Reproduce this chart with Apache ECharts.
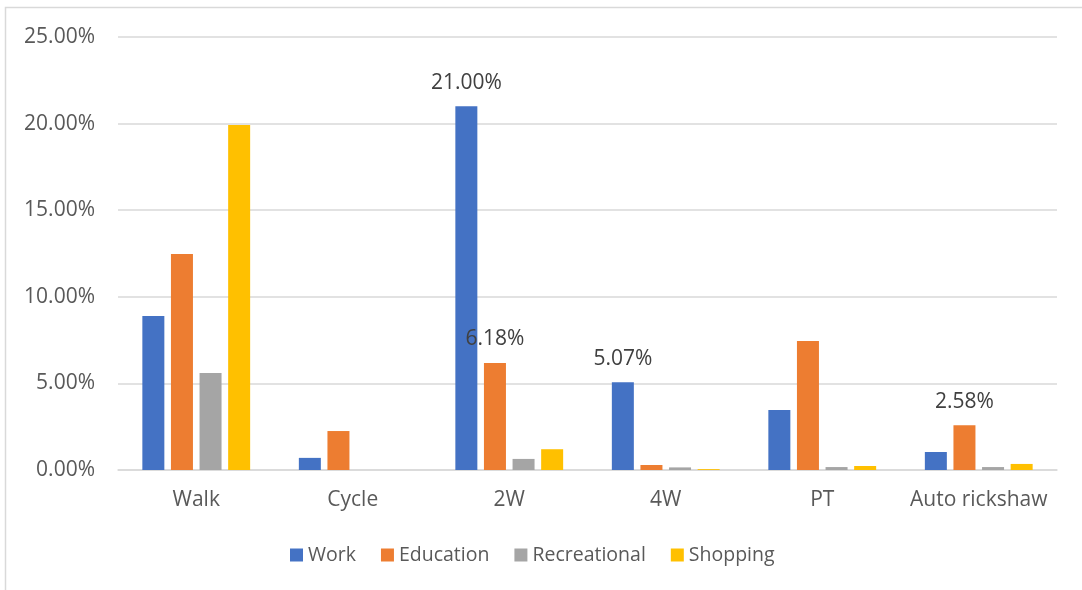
<!DOCTYPE html>
<html>
<head>
<meta charset="utf-8">
<title>Trip purpose by mode</title>
<script src="https://cdn.jsdelivr.net/npm/echarts@6/dist/echarts.min.js"></script>
<style>
  html, body { margin: 0; padding: 0; background: #fff; }
  #chart { width: 1082px; height: 590px; }
</style>
</head>
<body>
<div id="chart"></div>
<script>
// Modes of travel along the x axis
const modes = ['Walk', 'Cycle', '2W', '4W', 'PT', 'Auto rickshaw'];

// Share of trips (%) for each purpose, by mode
const work         = [8.89, 0.70, 21.00, 5.07, 3.46, 1.04];
const education    = [12.47, 2.25, 6.18, 0.29, 7.45, 2.58];
const recreational = [5.60, 0.00, 0.64, 0.15, 0.17, 0.17];
const shopping     = [19.92, 0.00, 1.20, 0.05, 0.23, 0.35];

// Indices of the bars that carry a value label
const workLabeled = [2, 3];
const educationLabeled = [2, 5];

const yTicks = { min: 0, max: 25, interval: 5 };

const fontFamily = '"Open Sans", sans-serif';
const fontSize = 21;

const labelStyle = {
  show: true,
  position: 'top',
  distance: 13,
  fontFamily: fontFamily,
  fontSize: fontSize,
  color: '#404040',
  formatter: p => p.value.toFixed(2) + '%'
};

function withLabels(values, labeled) {
  return values.map((v, i) => labeled.includes(i) ? { value: v, label: labelStyle } : v);
}

const chart = echarts.init(document.getElementById('chart'), null, { renderer: 'canvas' });

const barBase = {
  type: 'bar',
  barWidth: 22,
  barGap: '30%',
  label: { show: false },
  emphasis: { disabled: true }
};

chart.setOption({
  animation: false,
  textStyle: { fontFamily: fontFamily },
  grid: { left: 118, right: 25, top: 37, bottom: 120 },
  legend: {
    bottom: 25,
    left: 290,
    padding: 0,
    itemWidth: 13,
    itemHeight: 13,
    itemGap: 25,
    icon: 'rect',
    textStyle: { fontSize: 19.5, color: '#595959' },
    data: ['Work', 'Education', 'Recreational', 'Shopping']
  },
  xAxis: {
    type: 'category',
    data: modes,
    axisLine: { lineStyle: { color: '#d9d9d9', width: 1.5 } },
    axisTick: { show: false },
    axisLabel: { interval: 0, fontSize: fontSize, color: '#595959', margin: 20 }
  },
  yAxis: {
    type: 'value',
    min: yTicks.min,
    max: yTicks.max,
    interval: yTicks.interval,
    axisLine: { show: false },
    axisTick: { show: false },
    splitLine: { lineStyle: { color: '#d9d9d9', width: 1.5 } },
    axisLabel: {
      fontSize: fontSize,
      color: '#595959',
      margin: 23,
      formatter: v => v.toFixed(2) + '%'
    }
  },
  graphic: [{
    type: 'polyline',
    shape: { points: [[5.5, 590], [5.5, 7.5], [1082, 7.5]] },
    style: { stroke: '#d9d9d9', lineWidth: 1.5, fill: null },
    silent: true
  }],
  series: [
    Object.assign({}, barBase, { name: 'Work', itemStyle: { color: '#4472c4' }, data: withLabels(work, workLabeled) }),
    Object.assign({}, barBase, { name: 'Education', itemStyle: { color: '#ed7d31' }, data: withLabels(education, educationLabeled) }),
    Object.assign({}, barBase, { name: 'Recreational', itemStyle: { color: '#a5a5a5' }, data: recreational }),
    Object.assign({}, barBase, { name: 'Shopping', itemStyle: { color: '#ffc000' }, data: shopping })
  ]
});
</script>
</body>
</html>
